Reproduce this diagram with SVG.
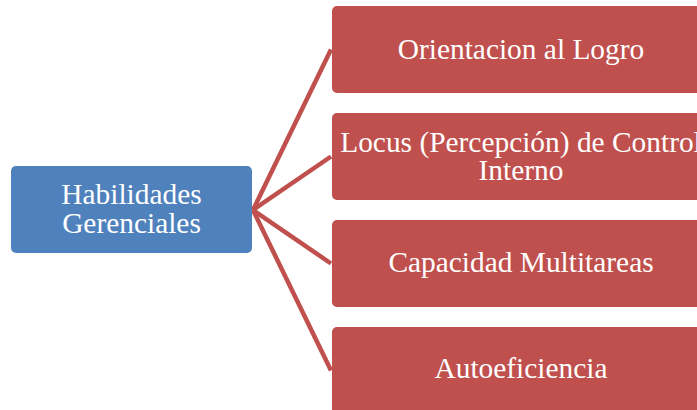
<svg xmlns="http://www.w3.org/2000/svg" width="697" height="410" viewBox="0 0 697 410">
<style>
.lbl{font-family:"Liberation Serif","Times New Roman",serif;font-size:29.4px;fill:#fff;text-anchor:middle}
.red{fill:#C0504D}
.conn{stroke:#C0504D;stroke-width:4.5;fill:none}
</style>
<rect width="697" height="410" fill="#fff"/>
<g id="connectors">
<line class="conn" x1="253" y1="210" x2="331" y2="49.5"/>
<line class="conn" x1="253" y1="210" x2="331" y2="156.5"/>
<line class="conn" x1="253" y1="210" x2="331" y2="263.5"/>
<line class="conn" x1="253" y1="210" x2="331" y2="370.5"/>
</g>
<g id="root">
<rect x="11" y="166" width="241" height="87" rx="5" fill="#4F81BD"/>
<text class="lbl" x="131.5" y="204">Habilidades</text>
<text class="lbl" x="131.5" y="233">Gerenciales</text>
</g>
<g id="n1">
<rect class="red" x="332" y="6" width="380" height="87" rx="5"/>
<text class="lbl" x="521" y="59">Orientacion al Logro</text>
</g>
<g id="n2">
<rect class="red" x="332" y="113" width="380" height="87" rx="5"/>
<text class="lbl" x="521" y="152">Locus (Percepción) de Control</text>
<text class="lbl" x="521" y="180">Interno</text>
</g>
<g id="n3">
<rect class="red" x="332" y="220" width="380" height="87" rx="5"/>
<text class="lbl" x="521" y="272">Capacidad Multitareas</text>
</g>
<g id="n4">
<rect class="red" x="332" y="327" width="380" height="87" rx="5"/>
<text class="lbl" x="521" y="378">Autoeficiencia</text>
</g>
</svg>
